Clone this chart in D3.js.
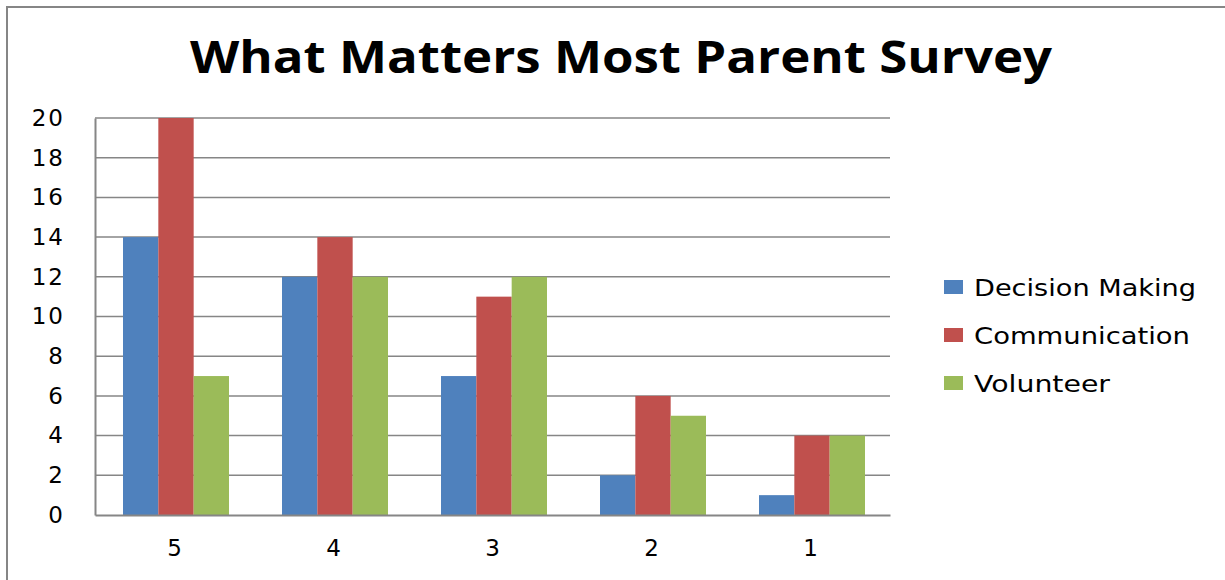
<!DOCTYPE html>
<html>
<head>
<meta charset="utf-8">
<script src="https://cdn.jsdelivr.net/npm/d3@7"></script>
<style>
  html, body { margin: 0; padding: 0; background: #fff; }
  svg { display: block; }
</style>
</head>
<body>
<svg id="chart" width="1225" height="580"></svg>
<script>
// Survey ratings (5 = matters most) and response counts per area
const categories = ["5", "4", "3", "2", "1"];
const seriesNames = ["Decision Making", "Communication", "Volunteer"];
const decisionMaking = [14, 12, 7, 2, 1];
const communication = [20, 14, 11, 6, 4];
const volunteer = [7, 12, 12, 5, 4];
const yTicks = [0, 2, 4, 6, 8, 10, 12, 14, 16, 18, 20];
const seriesColors = ["#4F81BD", "#C0504D", "#9BBB59"];
const titleText = "What Matters Most Parent Survey";

const seriesValues = [decisionMaking, communication, volunteer];
const rows = categories.map((c, i) => ({
  category: c,
  values: seriesNames.map((s, j) => ({ series: s, value: seriesValues[j][i] }))
}));

const svg = d3.select("#chart");
const gridColor = "#868686";

// Outer chart frame (left and top edges)
svg.append("path")
  .attr("d", "M7,580 L7,7 L1225,7")
  .attr("fill", "none")
  .attr("stroke", gridColor)
  .attr("stroke-width", 2);

// Title
svg.append("text")
  .attr("x", 190)
  .attr("y", 73)
  .attr("textLength", 862)
  .attr("lengthAdjust", "spacingAndGlyphs")
  .style("font-family", "'Open Sans', sans-serif")
  .style("font-weight", "bold")
  .style("font-size", "44px")
  .attr("fill", "#000")
  .text(titleText);

const plot = { left: 95, right: 890, top: 118, bottom: 515 };

const y = d3.scaleLinear().domain([0, 20]).range([plot.bottom, plot.top]);
const x0 = d3.scaleBand().domain(categories).range([plot.left, plot.right]).padding(0);
const x1 = d3.scaleBand().domain(seriesNames).range([0, x0.bandwidth()])
  .paddingInner(0).paddingOuter(0.75);
const color = d3.scaleOrdinal().domain(seriesNames).range(seriesColors);

// Horizontal gridlines
svg.append("g")
  .selectAll("line")
  .data(yTicks.filter(t => t > 0))
  .join("line")
  .attr("x1", plot.left)
  .attr("x2", plot.right)
  .attr("y1", d => y(d))
  .attr("y2", d => y(d))
  .attr("stroke", gridColor)
  .attr("stroke-width", 1.5);

// Bars
const groups = svg.append("g")
  .selectAll("g")
  .data(rows)
  .join("g")
  .attr("transform", d => `translate(${x0(d.category) + 1.5},0)`);

groups.selectAll("rect")
  .data(d => d.values)
  .join("rect")
  .attr("x", d => x1(d.series))
  .attr("width", x1.bandwidth())
  .attr("y", d => y(d.value))
  .attr("height", d => y(0) - y(d.value))
  .attr("fill", d => color(d.series));

// Y axis
const yAxis = svg.append("g")
  .attr("transform", `translate(${plot.left},0)`)
  .call(d3.axisLeft(y).tickValues(yTicks).tickSize(0).tickPadding(30));
yAxis.select(".domain").attr("stroke", gridColor).attr("stroke-width", 2);
yAxis.selectAll("text")
  .style("font-family", "'DejaVu Sans', sans-serif")
  .style("font-size", "23px")
  .style("letter-spacing", "2px")
  .attr("fill", "#000");

// X axis
const xAxis = svg.append("g")
  .attr("transform", `translate(0,${plot.bottom})`)
  .call(d3.axisBottom(x0).tickSize(0).tickPadding(25));
xAxis.select(".domain").attr("stroke", gridColor).attr("stroke-width", 2);
xAxis.selectAll("text")
  .style("font-family", "'DejaVu Sans', sans-serif")
  .style("font-size", "23px")
  .attr("fill", "#000");

// Legend
const legendWidths = [222, 216, 136];
const legend = svg.append("g")
  .selectAll("g")
  .data(seriesNames)
  .join("g")
  .attr("transform", (d, i) => `translate(944,${287 + i * 48})`);

legend.append("rect")
  .attr("x", 0)
  .attr("y", -7)
  .attr("width", 19)
  .attr("height", 14)
  .attr("fill", d => color(d));

legend.append("text")
  .attr("x", 30)
  .attr("y", 9)
  .attr("textLength", (d, i) => legendWidths[i])
  .attr("lengthAdjust", "spacingAndGlyphs")
  .style("font-family", "'DejaVu Sans', sans-serif")
  .style("font-size", "23px")
  .attr("fill", "#000")
  .text(d => d);
</script>
</body>
</html>
